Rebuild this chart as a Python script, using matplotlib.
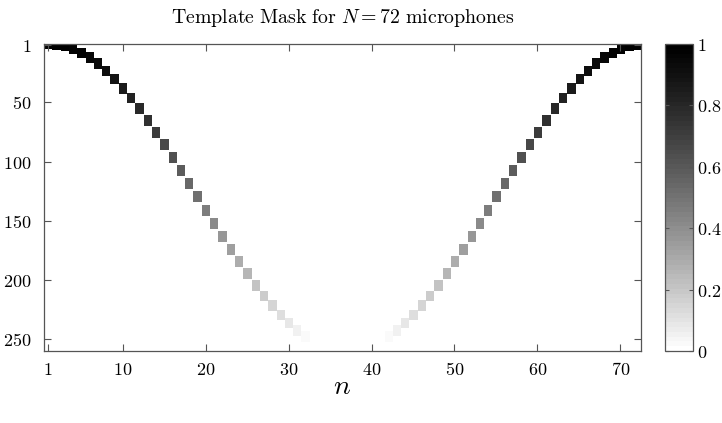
import numpy as np
import matplotlib
matplotlib.use("Agg")
import matplotlib.pyplot as plt
from matplotlib.colors import ListedColormap

plt.rcParams['mathtext.fontset'] = 'cm'
plt.rcParams['font.family'] = 'DejaVu Serif'

# microphone index and the delay row / weight
mics = list(range(1, 73))
delay_rows = [1, 2, 3, 5, 9, 13, 18, 24, 31, 39, 47, 56, 66, 76, 86, 97, 108, 119,
              130, 142, 153, 164, 175, 185, 195, 205, 214, 222, 230, 237, 243, 248,
              252, 256, 258, 259, 260, 259, 258, 256, 252, 248, 243, 237, 230, 222,
              214, 205, 195, 185, 175, 164, 153, 142, 130, 119, 108, 97, 86, 76, 66,
              56, 47, 39, 31, 24, 18, 13, 9, 5, 3, 2]
weights = [1.000, 0.998, 0.992, 0.983, 0.970, 0.953, 0.933, 0.910, 0.883, 0.854,
           0.821, 0.787, 0.750, 0.711, 0.671, 0.629, 0.587, 0.544, 0.500, 0.456,
           0.413, 0.371, 0.329, 0.289, 0.250, 0.213, 0.179, 0.146, 0.117, 0.090,
           0.060, 0.030, 0.0, 0.0, 0.0, 0.0, 0.0, 0.0, 0.0, 0.0, 0.0, 0.030,
           0.060, 0.090, 0.117, 0.146, 0.179, 0.213, 0.250, 0.289, 0.329, 0.371,
           0.413, 0.456, 0.500, 0.544, 0.587, 0.629, 0.671, 0.711, 0.750, 0.787,
           0.821, 0.854, 0.883, 0.910, 0.933, 0.953, 0.970, 0.983, 0.992, 0.998]
n_rows = 260
half_width = 4  # rows above/below the delay that carry the weight

x_ticks = [1, 10, 20, 30, 40, 50, 60, 70]
y_ticks = [1, 50, 100, 150, 200, 250]
cb_ticks = [0, 0.2, 0.4, 0.6, 0.8, 1]

mask = np.zeros((n_rows, len(mics)))
for j, (r, w) in enumerate(zip(delay_rows, weights)):
    lo = max(r - 1 - half_width, 0)
    hi = min(r + half_width, n_rows)
    mask[lo:hi, j] = w

# flipped gray, 64 levels, slightly darker in the middle than linear
levels = np.linspace(1, 0, 64) ** 1.15
cmap = ListedColormap(np.column_stack([levels, levels, levels]))

spine_col = '#555555'

fig = plt.figure(figsize=(7.22, 4.23), dpi=100)
ax = fig.add_axes([0.0609, 0.170, 0.8269, 0.726])
im = ax.imshow(mask, cmap=cmap, vmin=0, vmax=1, aspect='auto',
               interpolation='nearest',
               extent=(0.5, len(mics) + 0.5, n_rows + 0.5, 0.5))

ax.set_xticks(x_ticks)
ax.set_xticklabels([f'${t}$' for t in x_ticks], fontsize=13)
ax.set_yticks(y_ticks)
ax.set_yticklabels([f'${t}$' for t in y_ticks], fontsize=13)
ax.tick_params(direction='in', length=5, width=0.8, color=spine_col,
               top=True, right=True)
ax.tick_params(axis='y', pad=9)
ax.tick_params(axis='x', pad=7)
for s in ax.spines.values():
    s.set_color(spine_col)
    s.set_linewidth(0.9)

ax.set_title(r'$\mathrm{Template\ Mask\ for\ }N=72\mathrm{\ microphones}$',
             fontsize=14.3, pad=15)
ax.set_xlabel(r'$n$', fontsize=20)
ax.xaxis.set_label_coords(0.5, -0.07)

cax = fig.add_axes([0.921, 0.170, 0.0388, 0.726])
cb = fig.colorbar(im, cax=cax, ticks=cb_ticks)
cb.ax.set_yticklabels(['$0$', '$0.2$', '$0.4$', '$0.6$', '$0.8$', '$1$'], fontsize=13)
cb.ax.tick_params(direction='in', length=3, width=0.8, color=spine_col,
                  left=True, right=True, pad=3)
cb.outline.set_edgecolor(spine_col)
cb.outline.set_linewidth(0.9)

fig.savefig('out.png', dpi=100)
